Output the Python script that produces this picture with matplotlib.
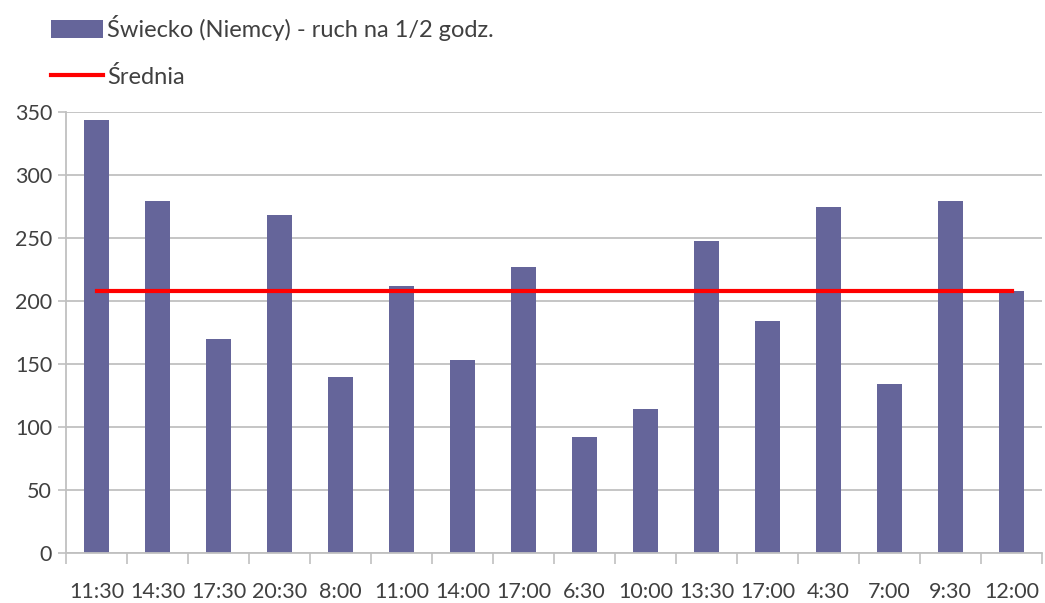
import matplotlib.pyplot as plt
import numpy as np

plt.rcParams['font.family'] = ['Lato', 'DejaVu Sans']

godziny = ['11:30', '14:30', '17:30', '20:30', '8:00', '11:00', '14:00', '17:00',
           '6:30', '10:00', '13:30', '17:00', '4:30', '7:00', '9:30', '12:00']
ruch = [344, 279, 170, 268, 140, 212, 153, 227, 92, 114, 248, 184, 275, 134, 279, 208]
yticks = [0, 50, 100, 150, 200, 250, 300, 350]

text_c = '#404040'
grid_c = '#C0C0C0'

fig = plt.figure(figsize=(10.45, 6.03), dpi=100)
ax = fig.add_axes([66 / 1045, 1 - 553 / 603, 976 / 1045, 441 / 603])

x = np.arange(len(godziny))
srednia = np.mean(ruch)

# Bars
bars = ax.bar(x, ruch, width=0.41, color='#65659A', zorder=2,
              label='Świecko (Niemcy) - ruch na 1/2 godz.')
# Mean line
line, = ax.plot(x, [srednia] * len(x), c='#FF0000', lw=3, zorder=3,
                label='Średnia')

# Axes parameters
ax.set_xlim(-0.5, len(x) - 0.5)
ax.set_ylim(0, 350)
ax.set_yticks(yticks)
ax.yaxis.grid(True, color=grid_c, lw=1.3, zorder=0)
ax.set_xticks(x)
ax.set_xticklabels(godziny)
ax.set_xticks(np.arange(-0.5, len(x)), minor=True)
ax.tick_params(axis='x', which='major', length=0, pad=21, labelsize=15.5,
               colors=text_c)
ax.tick_params(axis='x', which='minor', length=8, color=grid_c, width=1.2)
ax.tick_params(axis='y', length=6, color=grid_c, width=1.2, labelsize=15.5,
               colors=text_c, pad=4)

for s in ['top', 'right']:
    ax.spines[s].set_visible(False)
for s in ['left', 'bottom']:
    ax.spines[s].set_color(grid_c)
    ax.spines[s].set_linewidth(1.3)

leg = fig.legend(handles=[bars, line], loc='upper left',
                 bbox_to_anchor=(30 / 1045, 1 + 6 / 603),
                 frameon=False, fontsize=17, handlelength=2.2,
                 handleheight=0.8, handletextpad=0.15, labelspacing=1.05)
for t in leg.get_texts():
    t.set_color(text_c)

plt.savefig('out.png', dpi=100)
